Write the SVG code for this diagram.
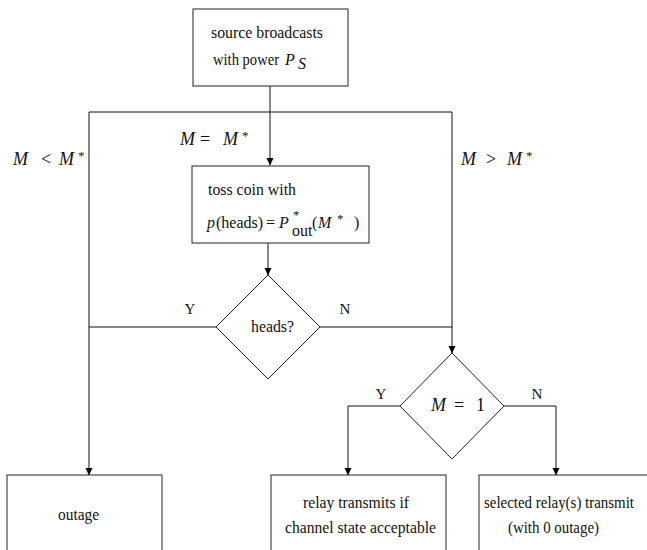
<svg xmlns="http://www.w3.org/2000/svg" width="647" height="550" viewBox="0 0 647 550">
<style>
text{font-family:"Liberation Serif","Times New Roman",serif;font-size:16px;fill:#111}
.m{font-style:italic}
.box{fill:#fff;stroke:#222;stroke-width:1}
.ln{fill:none;stroke:#111;stroke-width:1}
.lab{font-size:18px}
.yn{font-size:15px}
.sup{font-size:13px}
</style>
<defs>
<marker id="ah" markerWidth="8" markerHeight="10" refX="7" refY="5" orient="auto" markerUnits="userSpaceOnUse">
<path d="M0,1.5 L7.5,5 L0,8.5 Z" fill="#000"/>
</marker>
</defs>
<g id="connectors">
<line class="ln" x1="89" y1="112" x2="452" y2="112"/>
<line class="ln" x1="270" y1="86" x2="270" y2="165" marker-end="url(#ah)"/>
<line class="ln" x1="89" y1="112" x2="89" y2="475" marker-end="url(#ah)"/>
<line class="ln" x1="452" y1="112" x2="452" y2="353" marker-end="url(#ah)"/>
<line class="ln" x1="268" y1="243" x2="268" y2="275" marker-end="url(#ah)"/>
<line class="ln" x1="216" y1="327" x2="89" y2="327"/>
<line class="ln" x1="320" y1="327" x2="452" y2="327"/>
<polyline class="ln" points="400,406 348,406 348,475" marker-end="url(#ah)"/>
<polyline class="ln" points="504,406 556,406 556,475" marker-end="url(#ah)"/>
<text class="yn" x="190" y="314" text-anchor="middle">Y</text>
<text class="yn" x="345" y="314" text-anchor="middle">N</text>
<text class="yn" x="381" y="399" text-anchor="middle">Y</text>
<text class="yn" x="537" y="399" text-anchor="middle">N</text>
<text class="lab" y="165"><tspan class="m" x="13">M</tspan><tspan x="41">&lt;</tspan><tspan class="m" x="59">M</tspan><tspan class="sup" x="78" dy="-5">*</tspan></text>
<text class="lab" y="145"><tspan class="m" x="180">M</tspan><tspan x="200">=</tspan><tspan class="m" x="223">M</tspan><tspan class="sup" x="242" dy="-5">*</tspan></text>
<text class="lab" y="165"><tspan class="m" x="461">M</tspan><tspan x="486">&gt;</tspan><tspan class="m" x="507">M</tspan><tspan class="sup" x="526" dy="-5">*</tspan></text>
</g>
<g id="source">
<rect class="box" x="193" y="9" width="155" height="77"/>
<text x="211" y="38" textLength="112" lengthAdjust="spacingAndGlyphs">source broadcasts</text>
<text x="213" y="65" textLength="66" lengthAdjust="spacingAndGlyphs">with power</text>
<text class="m" x="285" y="65" font-size="18">P</text>
<text class="m" x="298" y="69" font-size="13">S</text>
</g>
<g id="toss">
<rect class="box" x="192" y="166" width="177" height="77"/>
<text x="208" y="195" textLength="88" lengthAdjust="spacingAndGlyphs">toss coin with</text>
<text class="m" x="207" y="228">p</text>
<text x="216" y="228">(heads)</text>
<text x="266" y="228">=</text>
<text class="m" x="279" y="228" font-size="18">P</text>
<text class="sup" x="293" y="219">*</text>
<text font-size="10" x="292" y="236">out</text>
<text font-size="17" x="312" y="228">(</text>
<text class="m" font-size="17" x="318" y="228">M</text>
<text class="sup" x="337" y="223">*</text>
<text font-size="17" x="354" y="228">)</text>
</g>
<g id="heads">
<polygon class="box" points="268,275 320,327 268,379 216,327"/>
<text x="251" y="332" textLength="43" lengthAdjust="spacingAndGlyphs">heads?</text>
</g>
<g id="m1">
<polygon class="box" points="452,353 504,406 452,459 400,406"/>
<text class="lab" y="411"><tspan class="m" x="431">M</tspan><tspan x="454">=</tspan><tspan x="476">1</tspan></text>
</g>
<g id="outage">
<rect class="box" x="7" y="475" width="155" height="90"/>
<text x="58" y="520" textLength="41" lengthAdjust="spacingAndGlyphs">outage</text>
</g>
<g id="relay">
<rect class="box" x="271" y="475" width="175" height="90"/>
<text x="303" y="508" textLength="106" lengthAdjust="spacingAndGlyphs">relay transmits if</text>
<text x="285" y="533" textLength="151" lengthAdjust="spacingAndGlyphs">channel state acceptable</text>
</g>
<g id="selected">
<rect class="box" x="479" y="475" width="180" height="90"/>
<text x="484" y="508" textLength="150" lengthAdjust="spacingAndGlyphs">selected relay(s) transmit</text>
<text x="508" y="533" textLength="91" lengthAdjust="spacingAndGlyphs">(with 0 outage)</text>
</g>
</svg>
